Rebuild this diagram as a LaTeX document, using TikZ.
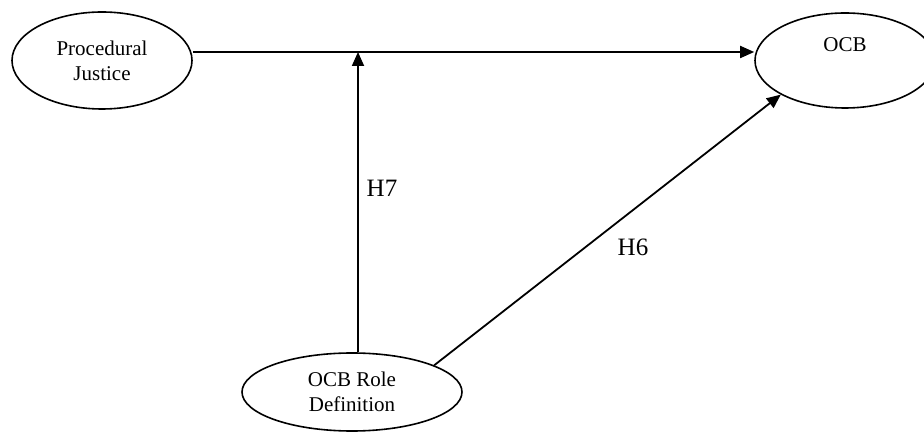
\documentclass[tikz,border=0pt]{standalone}
\usepackage{fontspec}
\setmainfont{Liberation Serif}
\usetikzlibrary{shapes.geometric,arrows.meta}
\begin{document}
\begin{tikzpicture}[x=1pt,y=-1pt,
  construct/.style={draw, ellipse, line width=1.6pt, inner sep=0pt, align=center,
    font=\fontsize{21}{25}\selectfont},
  conn/.style={line width=1.8pt, -{Triangle[length=14pt,width=12pt]}},
  hyp/.style={font=\fontsize{25}{30}\selectfont, inner sep=0pt}]
\useasboundingbox (0,0) rectangle (924,435);
\node[construct, minimum width=180pt, minimum height=97pt] (pj) at (102,60.5) {Procedural\\Justice};
\node[construct, minimum width=180pt, minimum height=95pt] (ocb) at (845,60.5) {OCB\\\strut};
\node[construct, minimum width=220pt, minimum height=78pt] (rd) at (352,392) {OCB Role\\Definition};
\coordinate (j) at (358,52);
\draw[conn] (pj.east |- j) -- (ocb.west |- j);
\draw[conn] (rd.north -| j) -- (j);
\draw[conn] (rd.18) -- (ocb.208);
\node[hyp] (h7) at (382,188) {H7};
\node[hyp] (h6) at (633,247) {H6};
\end{tikzpicture}
\end{document}
